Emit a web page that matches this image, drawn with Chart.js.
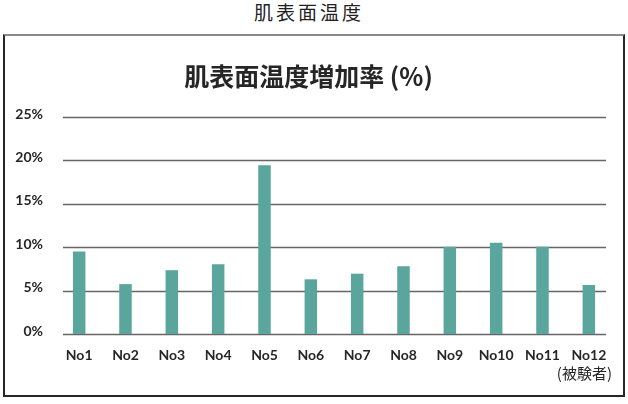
<!DOCTYPE html>
<html lang="ja">
<head>
<meta charset="utf-8">
<title>肌表面温度</title>
<script src="https://cdn.jsdelivr.net/npm/chart.js@4.4.1/dist/chart.umd.min.js"></script>
<style>
    html, body {
        margin: 0;
        padding: 0;
        background: #fff;
    }
    body {
        width: 628px;
        height: 404px;
        position: relative;
        overflow: hidden;
        font-family: "Noto Sans CJK JP", "Noto Sans", sans-serif;
        color: #222;
    }
    .heading {
        position: absolute;
        left: -5px;
        top: 0;
        width: 628px;
        text-align: center;
        font-size: 19px;
        line-height: 24px;
        letter-spacing: 3px;
    }
    .box {
        position: absolute;
        left: 3px;
        top: 34px;
        width: 618px;
        height: 359px;
        border: 2px solid #262626;
        border-top-color: #8a8a8a;
    }
    .box canvas {
        display: block;
    }
</style>
</head>
<body>
<div class="heading">肌表面温度</div>
<div class="box">
    <canvas id="tempChart" width="618" height="359"></canvas>
</div>
<script>
// Chart data
const subjects = ['No1', 'No2', 'No3', 'No4', 'No5', 'No6', 'No7', 'No8', 'No9', 'No10', 'No11', 'No12'];
const increaseRates = [9.5, 5.75, 7.35, 8.05, 19.45, 6.3, 6.95, 7.8, 10.05, 10.5, 10.05, 5.65];
const yTicks = [0, 5, 10, 15, 20, 25];

const chartTitle = '肌表面温度増加率 (%)';
const xUnit = '(被験者)';

const barColor = '#5ba69c';
const lineColor = '#666666';
const textColor = '#262626';
const latinFont = 'Lato, "Noto Sans", sans-serif';
const cjkFont = '"Noto Sans CJK JP", sans-serif';

// Horizontal rules, a little shorter than the category span
const gridRules = {
    id: 'gridRules',
    beforeDatasetsDraw(chart) {
        const { ctx, chartArea, scales } = chart;
        ctx.save();
        ctx.strokeStyle = lineColor;
        ctx.lineWidth = 1.5;
        yTicks.forEach(v => {
            const y = Math.round(scales.y.getPixelForValue(v)) + 0.5;
            ctx.beginPath();
            ctx.moveTo(chartArea.left + 7, y);
            ctx.lineTo(chartArea.right - 6, y);
            ctx.stroke();
        });
        ctx.restore();
    }
};

const ctx = document.getElementById('tempChart').getContext('2d');
const tempChart = new Chart(ctx, {
    type: 'bar',
    data: {
        labels: subjects,
        datasets: [{
            data: increaseRates,
            backgroundColor: barColor,
            borderWidth: 0,
            barPercentage: 0.27,
            categoryPercentage: 1
        }]
    },
    options: {
        responsive: false,
        animation: false,
        layout: {
            padding: { left: 0, right: 11, top: 0, bottom: 0 }
        },
        plugins: {
            legend: { display: false },
            tooltip: { enabled: false },
            title: {
                display: true,
                text: chartTitle,
                color: textColor,
                font: { family: cjkFont, size: 25, weight: 'bold' },
                padding: { top: 25, bottom: 26 }
            }
        },
        scales: {
            x: {
                grid: { display: false, drawTicks: false },
                border: { display: false },
                afterFit(scale) {
                    scale.height = 61;
                },
                ticks: {
                    color: textColor,
                    padding: 13,
                    autoSkip: false,
                    maxRotation: 0,
                    font: { family: latinFont, size: 14, weight: 'bold' }
                },
                title: {
                    display: true,
                    text: xUnit,
                    align: 'end',
                    color: textColor,
                    font: { family: cjkFont, size: 15 },
                    padding: { top: 0, bottom: 13 }
                }
            },
            y: {
                min: 0,
                max: 25,
                grid: { display: false, drawTicks: false },
                border: { display: false },
                afterBuildTicks(scale) {
                    scale.ticks = yTicks.map(v => ({ value: v }));
                },
                afterFit(scale) {
                    scale.width = 51;
                },
                ticks: {
                    color: textColor,
                    padding: 13,
                    labelOffset: -3,
                    font: { family: latinFont, size: 14, weight: 'bold' },
                    callback: v => v + '%'
                }
            }
        }
    },
    plugins: [gridRules]
});
</script>
</body>
</html>
